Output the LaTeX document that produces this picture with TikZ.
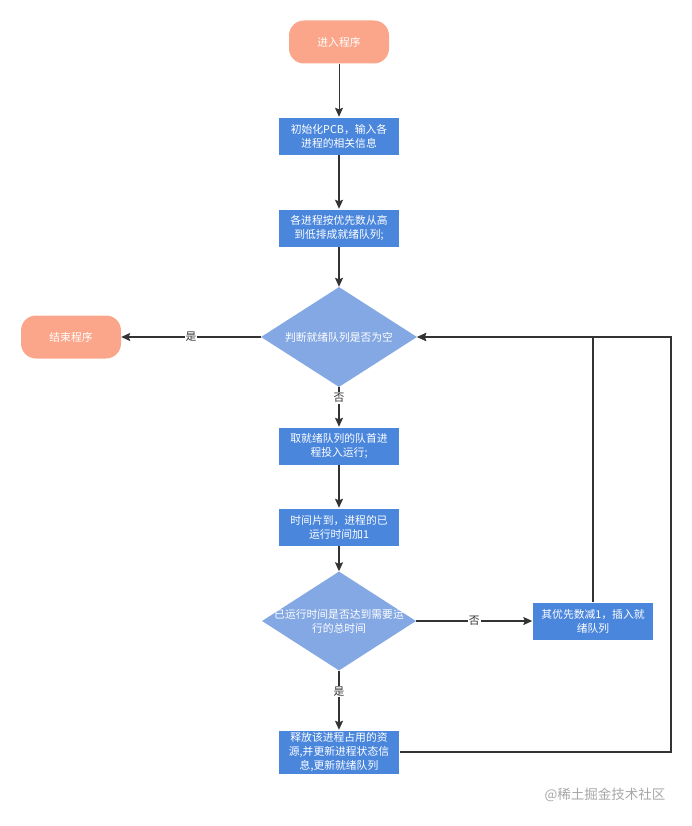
\documentclass[tikz,border=0pt]{standalone}
\usepackage{fontspec}
\setmainfont{Noto Sans CJK SC}
\usetikzlibrary{shapes.geometric,arrows.meta,positioning,calc}
\definecolor{termcol}{HTML}{FBA68B}
\definecolor{boxcol}{HTML}{4A86DC}
\definecolor{diacol}{HTML}{84A8E3}
\definecolor{linecol}{HTML}{333333}
\begin{document}
\begin{tikzpicture}[x=1pt,y=-1pt,
  every node/.style={font=\fontsize{10.8}{14}\selectfont},
  term/.style={draw=none,fill=termcol,rounded corners=15pt,minimum width=100pt,minimum height=43pt,text=white},
  procbox/.style={draw=white,fill=boxcol,minimum width=121pt,minimum height=38pt,text width=119pt,align=center,text=white,inner sep=1pt},
  decide/.style={diamond,draw=none,fill=diacol,minimum width=156pt,minimum height=100pt,inner sep=0pt,aspect=1.56},
  dtext/.style={align=center,text=white,inner sep=0pt},
  lbl/.style={fill=white,text=linecol,inner sep=1pt},
  arr/.style={draw=linecol,line width=1.3pt,-{Stealth[length=9pt,width=8pt,inset=1.5pt]}}]
  \useasboundingbox (0,0) rectangle (692,826);
  % terminators
  \node[term] (start) at (339,42) {进入程序};
  \node[term] (stop) at (71,337) {结束程序};
  % process boxes
  \node[procbox] (init) at (339,136) {初始化PCB，输入各\\进程的相关信息};
  \node[procbox] (sort) at (339,228) {各进程按优先数从高\\到低排成就绪队列;};
  \node[procbox] (pick) at (339,446) {取就绪队列的队首进\\程投入运行;};
  \node[procbox] (tick) at (339,527) {时间片到，进程的已\\运行时间加1};
  \node[procbox] (dec) at (593,621) {其优先数减1，插入就\\绪队列};
  \node[procbox,minimum height=44pt] (free) at (339,752) {释放该进程占用的资\\源,并更新进程状态信\\息,更新就绪队列};
  % decisions
  \node[decide] (chk) at (339,337) {};
  \node[dtext] (chkt) at (chk) {判断就绪队列是否为空};
  \node[decide,minimum width=154pt,minimum height=99pt,aspect=1.55] (done) at (339,621) {};
  \node[dtext] (donet) at (done) {已运行时间是否达到需要运\\行的总时间};
  \coordinate (loop) at (671,337);
  % connectors
  \draw[arr,line width=1pt] (start) -- (init);
  \draw[arr] (init) -- (sort);
  \draw[arr] (sort) -- (chk);
  \draw[arr] (chk) -- node[lbl] {是} (stop);
  \draw[arr] (chk) -- node[lbl,pos=0.27] {否} (pick);
  \draw[arr] (pick) -- (tick);
  \draw[arr] (tick) -- (done);
  \draw[arr] (done) -- node[lbl] {否} (dec);
  \draw[arr] (done) -- node[lbl,pos=0.35] {是} (free);
  \draw[arr] (dec.north) |- (chk.east);
  \draw[arr] (free.east) -| (loop) -- (chk.east);
  % watermark
  \node[text=gray!70,font=\fontsize{13.5}{15}\selectfont] (mark) at (605,795) {@稀土掘金技术社区};
\end{tikzpicture}
\end{document}
